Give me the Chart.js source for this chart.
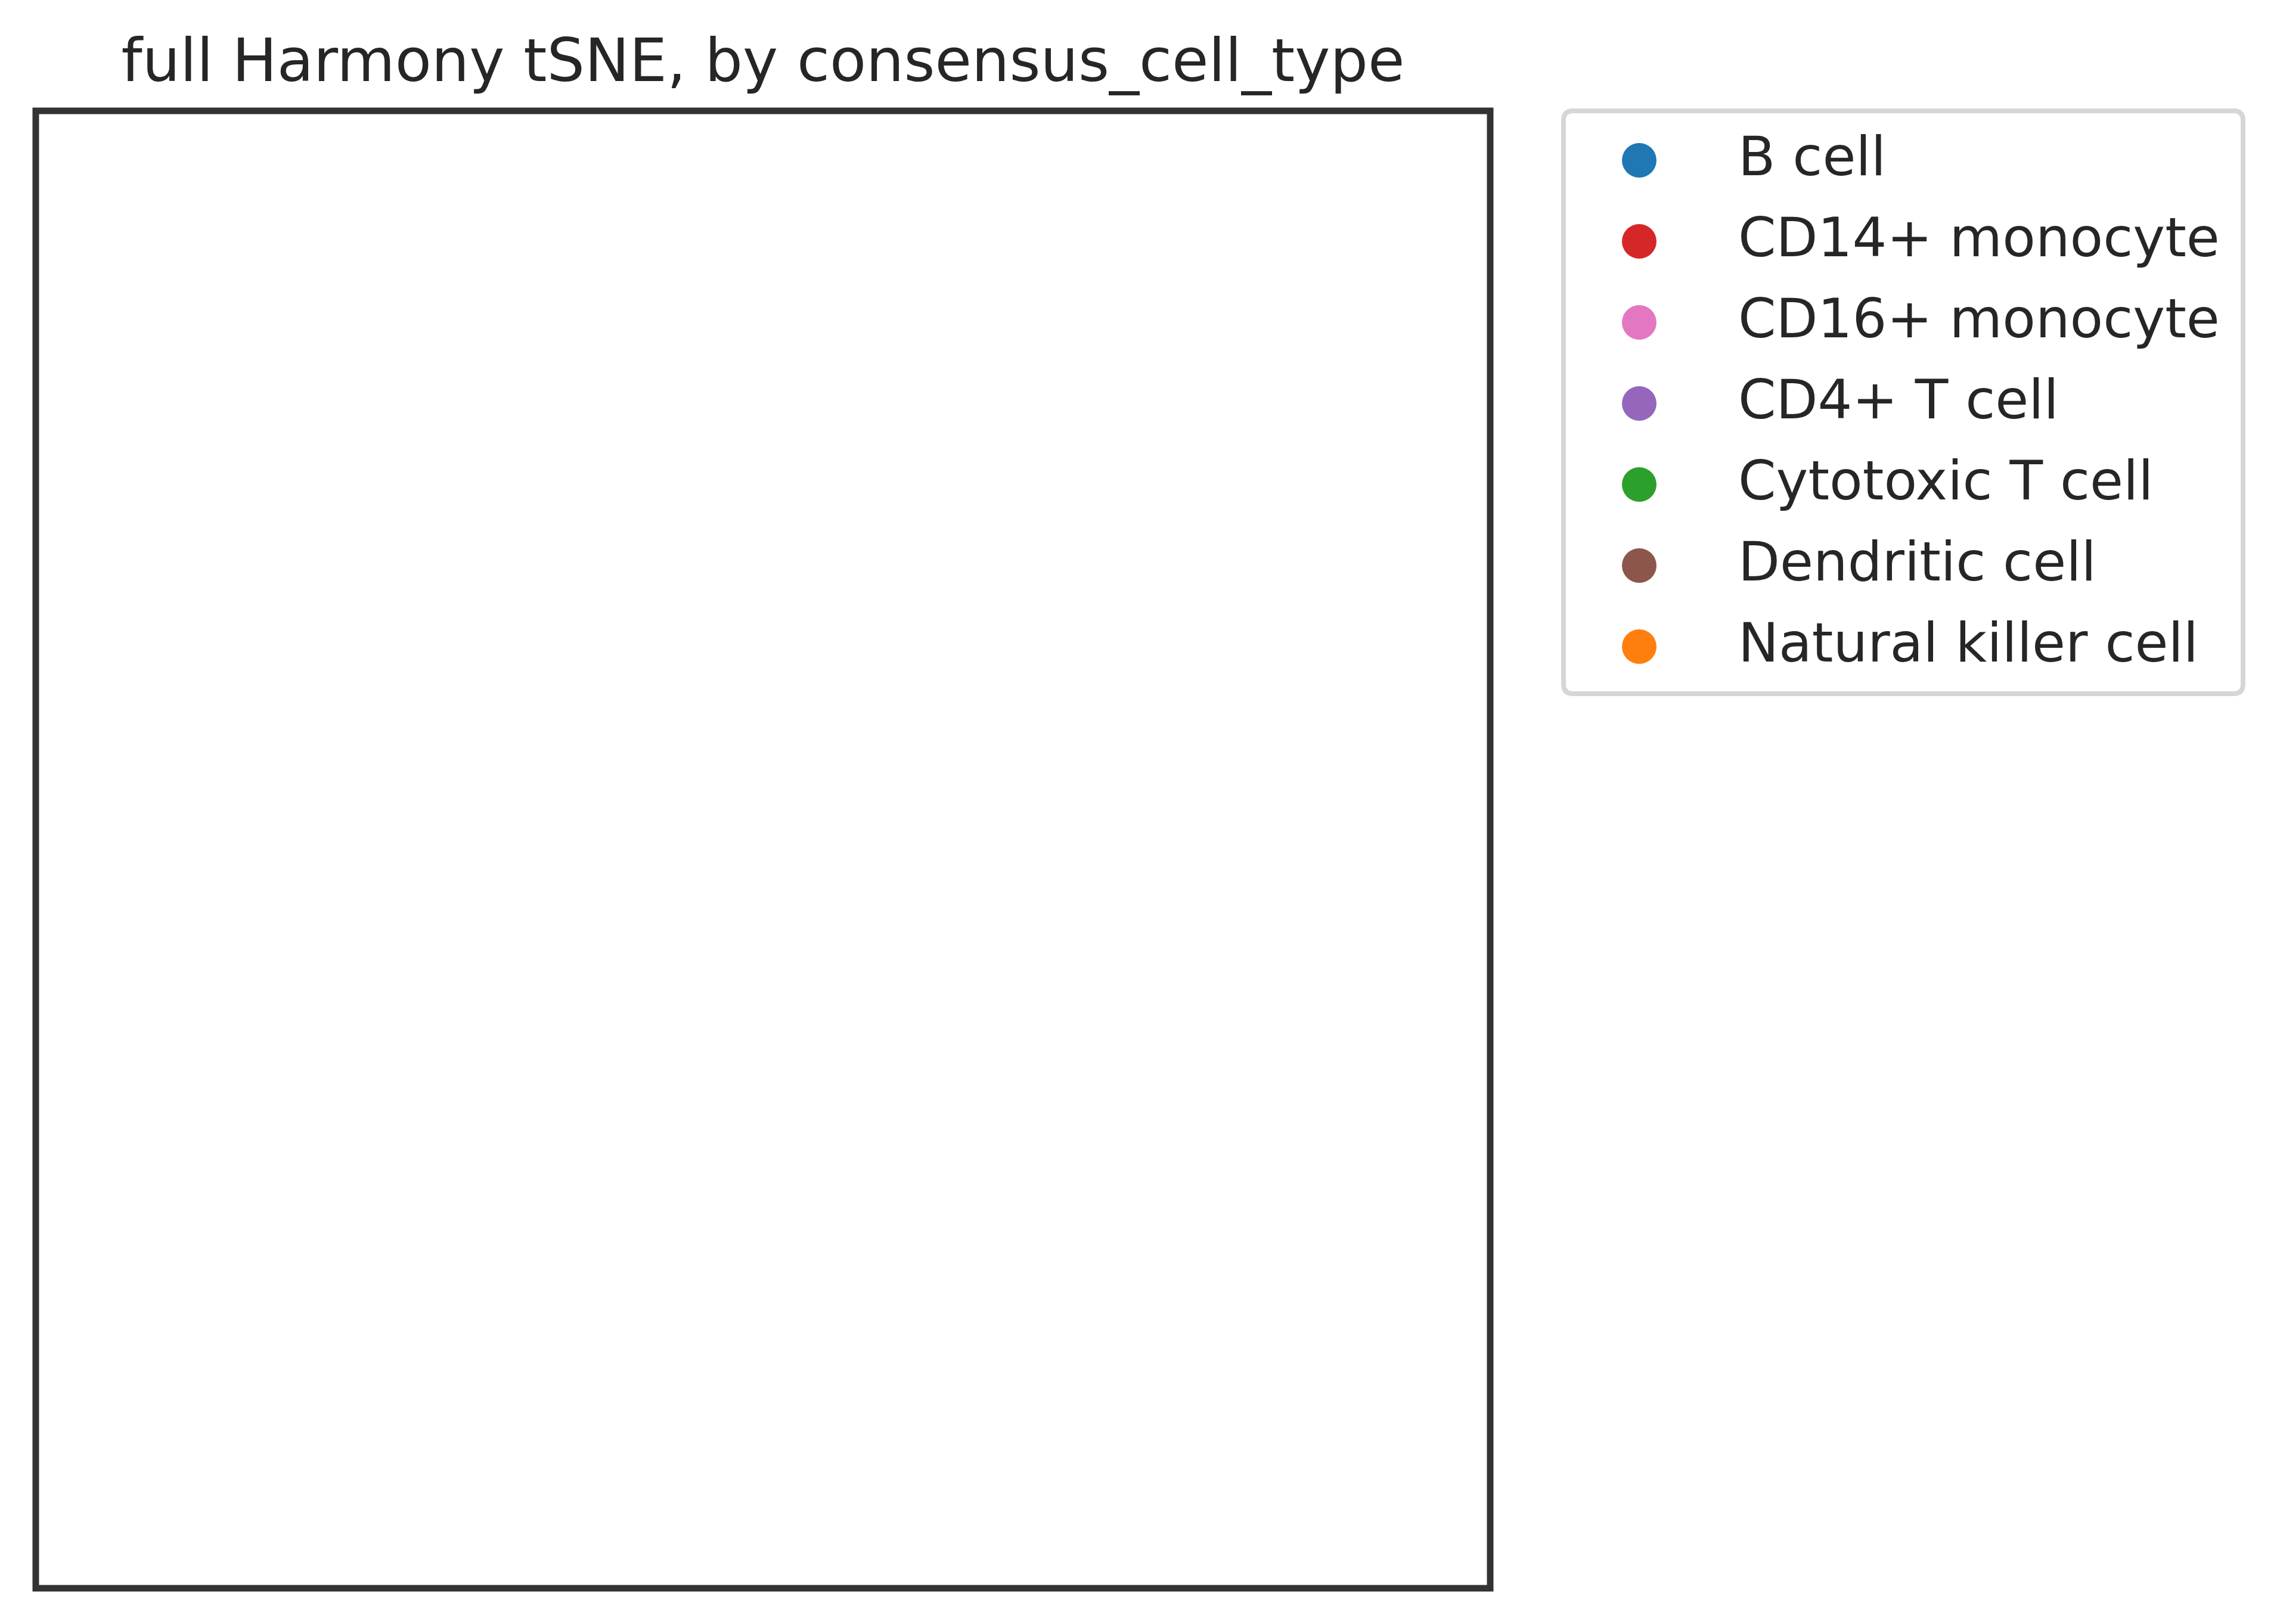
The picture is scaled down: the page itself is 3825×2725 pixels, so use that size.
<!DOCTYPE html>
<html>
<head>
<meta charset="utf-8">
<script src="https://cdn.jsdelivr.net/npm/chart.js@4.4.1/dist/chart.umd.min.js"></script>
<style>
  html, body { margin: 0; padding: 0; background: #ffffff; }
  #wrap { width: 3825px; height: 2725px; }
</style>
</head>
<body>
<div id="wrap"><canvas id="c" width="3825" height="2725"></canvas></div>
<script>
// ---- data ----
const chartTitle = 'full Harmony tSNE, by consensus_cell_type';
const categories = ['B cell', 'CD14+ monocyte', 'CD16+ monocyte', 'CD4+ T cell',
                    'Cytotoxic T cell', 'Dendritic cell', 'Natural killer cell'];
// The reference plot area shows no visible points for any category.
const bCellPts = [];
const cd14Pts = [];
const cd16Pts = [];
const cd4Pts = [];
const cytotoxicPts = [];
const dendriticPts = [];
const nkPts = [];
const seriesPoints = [bCellPts, cd14Pts, cd16Pts, cd4Pts, cytotoxicPts, dendriticPts, nkPts];

// ---- styles ----
const palette = ['#1f77b4', '#d62728', '#e377c2', '#9467bd', '#2ca02c', '#8c564b', '#ff7f0e'];
const FONT = '"DejaVu Sans", "Liberation Sans", sans-serif';
const TEXT = '#262626';

const framePlugin = {
  id: 'frameAndLegend',
  afterDraw(chart) {
    const ctx = chart.ctx;
    const a = chart.chartArea;
    ctx.save();
    // axes frame
    ctx.strokeStyle = '#333333';
    ctx.lineWidth = 11;
    ctx.lineJoin = 'miter';
    ctx.strokeRect(a.left, a.top, a.right - a.left, a.bottom - a.top);

    // title
    ctx.fillStyle = TEXT;
    ctx.font = '100px ' + FONT;
    ctx.textAlign = 'center';
    ctx.textBaseline = 'alphabetic';
    ctx.fillText(chartTitle, (a.left + a.right) / 2, 136);

    // legend box
    const lx = 2623, ly = 186, lw = 3763 - 2623, lh = 1164 - 186, r = 16;
    ctx.beginPath();
    ctx.moveTo(lx + r, ly);
    ctx.lineTo(lx + lw - r, ly);
    ctx.quadraticCurveTo(lx + lw, ly, lx + lw, ly + r);
    ctx.lineTo(lx + lw, ly + lh - r);
    ctx.quadraticCurveTo(lx + lw, ly + lh, lx + lw - r, ly + lh);
    ctx.lineTo(lx + r, ly + lh);
    ctx.quadraticCurveTo(lx, ly + lh, lx, ly + lh - r);
    ctx.lineTo(lx, ly + r);
    ctx.quadraticCurveTo(lx, ly, lx + r, ly);
    ctx.closePath();
    ctx.fillStyle = '#ffffff';
    ctx.fill();
    ctx.strokeStyle = '#d6d6d6';
    ctx.lineWidth = 8;
    ctx.stroke();

    // legend entries
    ctx.font = '91px ' + FONT;
    ctx.textAlign = 'left';
    chart.data.datasets.forEach((ds, i) => {
      const cy = 269 + i * 136;
      ctx.beginPath();
      ctx.arc(2750, cy, 29, 0, Math.PI * 2);
      ctx.fillStyle = ds.backgroundColor;
      ctx.fill();
      ctx.fillStyle = TEXT;
      ctx.fillText(ds.label, 2916, cy + 25);
    });
    ctx.restore();
  }
};

new Chart(document.getElementById('c'), {
  type: 'scatter',
  data: {
    datasets: categories.map((name, i) => ({
      label: name,
      data: seriesPoints[i],
      backgroundColor: palette[i],
      borderColor: palette[i],
      pointRadius: 4
    }))
  },
  options: {
    responsive: false,
    animation: false,
    devicePixelRatio: 1,
    layout: { padding: { left: 60, top: 186, right: 3825 - 2500, bottom: 2725 - 2665 } },
    scales: {
      x: { type: 'linear', display: false, min: -1, max: 1 },
      y: { type: 'linear', display: false, min: -1, max: 1 }
    },
    plugins: {
      legend: { display: false },
      title: { display: false },
      tooltip: { enabled: false }
    }
  },
  plugins: [framePlugin]
});
</script>
</body>
</html>
